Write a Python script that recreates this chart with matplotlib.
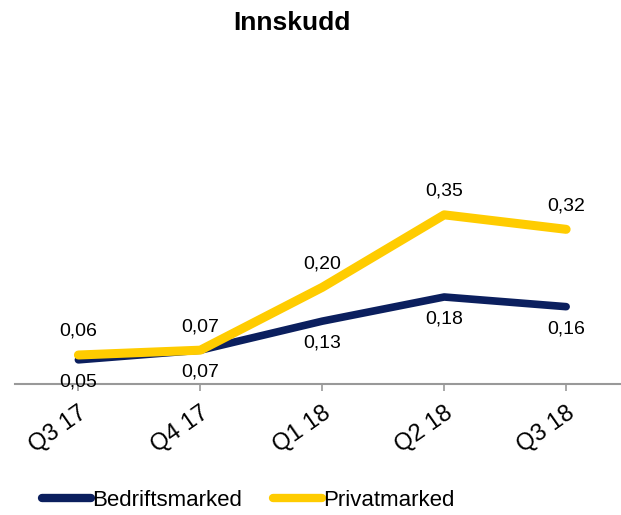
import matplotlib.pyplot as plt
from matplotlib.lines import Line2D

plt.rcParams['font.family'] = ['Liberation Sans', 'DejaVu Sans']

quarters = ["Q3 17", "Q4 17", "Q1 18", "Q2 18", "Q3 18"]
bedrift = [0.05, 0.07, 0.13, 0.18, 0.16]
privat = [0.06, 0.07, 0.20, 0.35, 0.32]

blue = "#0B1F5E"
yellow = "#FFCC00"

fig = plt.figure(figsize=(6.21, 5.15), dpi=100)
ax = fig.add_axes([15 / 621, 1 - 384 / 515, 1 - 15 / 621, 290 / 515])

x = range(len(quarters))
ax.plot(x, bedrift, color=blue, lw=5.5, solid_capstyle='round', zorder=2)
ax.plot(x, privat, color=yellow, lw=6.5, solid_capstyle='round', zorder=3)

for i, v in enumerate(privat):
    ax.annotate(f"{v:.2f}".replace(".", ","), (i, v), xytext=(0, 17),
                textcoords='offset points', ha='center', va='center', fontsize=14)
for i, v in enumerate(bedrift):
    ax.annotate(f"{v:.2f}".replace(".", ","), (i, v), xytext=(0, -16),
                textcoords='offset points', ha='center', va='center', fontsize=14)

ax.set_xlim(-0.52, 4.45)
ax.set_ylim(0, 0.6)
for s in ['top', 'right', 'left']:
    ax.spines[s].set_visible(False)
ax.spines['bottom'].set_color('#999999')
ax.spines['bottom'].set_linewidth(1.5)
ax.set_yticks([])
ax.set_xticks(list(x))
ax.set_xticklabels(quarters, rotation=35, ha='right', rotation_mode='anchor', fontsize=17)
ax.tick_params(axis='x', colors='#999999', length=5, width=1.2, labelcolor='black', pad=8)

fig.text(0.47, 0.955, "Innskudd", ha='center', va='center', fontsize=19, fontweight='bold')

handles = [Line2D([], [], color=blue, lw=6, solid_capstyle='round'),
           Line2D([], [], color=yellow, lw=6, solid_capstyle='round')]
fig.legend(handles, ["Bedriftsmarked", "Privatmarked"], loc='center', bbox_to_anchor=(0.40, 0.028),
           ncol=2, frameon=False, fontsize=16, handlelength=2.2, handletextpad=0.05,
           columnspacing=1.4)

fig.savefig("out.png", dpi=100)
